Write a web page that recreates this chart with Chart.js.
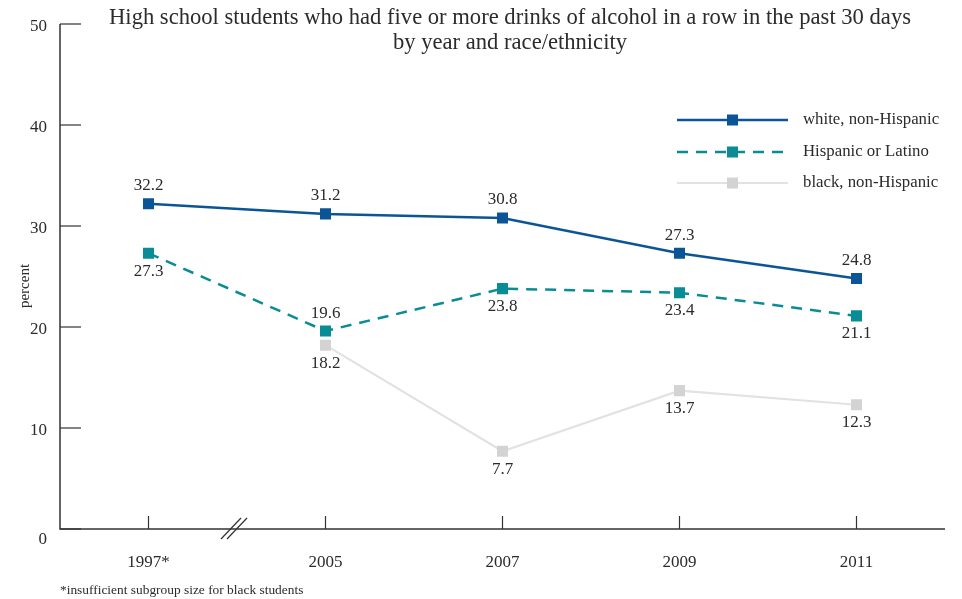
<!DOCTYPE html>
<html>
<head>
<meta charset="utf-8">
<script src="https://cdn.jsdelivr.net/npm/chart.js@4"></script>
<style>
  html, body { margin: 0; padding: 0; background: #fff; }
  #wrap { width: 962px; height: 599px; position: relative; }
</style>
</head>
<body>
<div id="wrap"><canvas id="myChart" width="962" height="599"></canvas></div>
<script>
var years = ["1997*", "2005", "2007", "2009", "2011"];
var whiteVals = [32.2, 31.2, 30.8, 27.3, 24.8];
var hispVals = [27.3, 19.6, 23.8, 23.4, 21.1];
var blackVals = [null, 18.2, 7.7, 13.7, 12.3];
var seriesNames = ["white, non-Hispanic", "Hispanic or Latino", "black, non-Hispanic"];
var yTicks = [0, 10, 20, 30, 40, 50];

// label above (-1) or below (1) the marker
var labelSide = [
  [-1, -1, -1, -1, -1],
  [1, -1, 1, 1, 1],
  [1, 1, 1, 1, 1]
];

var serif = "'Liberation Serif', 'DejaVu Serif', serif";
var ink = "#2b2b2b";

var extras = {
  id: "extras",
  afterDatasetsDraw: function(chart) {
    var ctx = chart.ctx;
    var xs = chart.scales.x;
    var ys = chart.scales.y;
    var area = chart.chartArea;
    ctx.save();

    // axes
    ctx.strokeStyle = "#333";
    ctx.lineWidth = 1.5;
    ctx.beginPath();
    ctx.moveTo(area.left, area.top);
    ctx.lineTo(area.left, area.bottom);
    ctx.lineTo(area.right, area.bottom);
    ctx.stroke();

    ctx.lineWidth = 1.2;
    yTicks.forEach(function(v) {
      var y = ys.getPixelForValue(v);
      ctx.beginPath();
      ctx.moveTo(area.left, y);
      ctx.lineTo(area.left + 21, y);
      ctx.stroke();
    });
    years.forEach(function(c, i) {
      var x = xs.getPixelForValue(i);
      ctx.beginPath();
      ctx.moveTo(x, area.bottom);
      ctx.lineTo(x, area.bottom - 13);
      ctx.stroke();
    });

    // zero label sits a little below the axis line
    ctx.fillStyle = ink;
    ctx.font = "17px " + serif;
    ctx.textAlign = "right";
    ctx.textBaseline = "middle";
    ctx.fillText("0", 47, ys.getPixelForValue(0) + 11);

    // axis break between first and second category
    var bx = (xs.getPixelForValue(0) + xs.getPixelForValue(1)) / 2 - 3;
    ctx.lineWidth = 1.2;
    [-3, 3].forEach(function(d) {
      ctx.beginPath();
      ctx.moveTo(bx + d - 10, area.bottom + 10);
      ctx.lineTo(bx + d + 10, area.bottom - 11);
      ctx.stroke();
    });

    // value labels
    ctx.font = "17px " + serif;
    ctx.textAlign = "center";
    chart.data.datasets.forEach(function(ds, di) {
      var meta = chart.getDatasetMeta(di);
      meta.data.forEach(function(pt, i) {
        var v = ds.data[i];
        if (v === null) return;
        ctx.fillText(v.toFixed(1), pt.x, pt.y + labelSide[di][i] * 18);
      });
    });

    // title
    ctx.font = "22.6px " + serif;
    ctx.fillText("High school students who had five or more drinks of alcohol in a row in the past 30 days", 510, 18);
    ctx.fillText("by year and race/ethnicity", 510, 43);

    // y axis title
    ctx.save();
    ctx.translate(25, 286);
    ctx.rotate(-Math.PI / 2);
    ctx.font = "15px " + serif;
    ctx.fillText("percent", 0, 0);
    ctx.restore();

    // legend
    var rowY = [120, 152, 183];
    chart.data.datasets.forEach(function(ds, di) {
      var y = rowY[di];
      ctx.strokeStyle = ds.borderColor;
      ctx.lineWidth = ds.borderWidth;
      ctx.setLineDash(ds.borderDash || []);
      ctx.beginPath();
      ctx.moveTo(677, y);
      ctx.lineTo(788, y);
      ctx.stroke();
      ctx.setLineDash([]);
      ctx.fillStyle = ds.pointBackgroundColor;
      ctx.fillRect(727, y - 5.5, 11, 11);
      ctx.fillStyle = ink;
      ctx.font = "16.8px " + serif;
      ctx.textAlign = "left";
      ctx.fillText(ds.label, 803, y);
    });

    // footnote
    ctx.font = "13.4px " + serif;
    ctx.textAlign = "left";
    ctx.fillStyle = ink;
    ctx.fillText("*insufficient subgroup size for black students", 60, 590);

    ctx.restore();
  }
};

Chart.register(extras);

var colors = ["#0b5596", "#0a8c96", "#d3d3d3"];
var ctx = document.getElementById("myChart").getContext("2d");
var myChart = new Chart(ctx, {
  type: "line",
  data: {
    labels: years,
    datasets: [
      {
        label: seriesNames[0], data: whiteVals, borderColor: colors[0], borderWidth: 2.5,
        pointStyle: "rect", pointRadius: 7.8, pointBackgroundColor: colors[0], pointBorderWidth: 0
      },
      {
        label: seriesNames[1], data: hispVals, borderColor: colors[1], borderWidth: 2.5, borderDash: [11, 8],
        pointStyle: "rect", pointRadius: 7.8, pointBackgroundColor: colors[1], pointBorderWidth: 0
      },
      {
        label: seriesNames[2], data: blackVals, borderColor: "#e2e2e2", borderWidth: 2.2,
        pointStyle: "rect", pointRadius: 7.8, pointBackgroundColor: colors[2], pointBorderWidth: 0
      }
    ]
  },
  options: {
    responsive: false,
    animation: false,
    layout: { padding: { left: 0, right: 17, top: 24, bottom: 0 } },
    plugins: { legend: { display: false }, tooltip: { enabled: false } },
    scales: {
      x: {
        offset: true,
        grid: { display: false, drawTicks: false },
        border: { display: false },
        ticks: { color: ink, font: { family: serif, size: 17 }, padding: 23 },
        afterFit: function(s) { s.height = 70; }
      },
      y: {
        min: 0, max: 50,
        grid: { display: false, drawTicks: false },
        border: { display: false },
        ticks: {
          stepSize: 10, color: ink, font: { family: serif, size: 17 }, padding: 13, labelOffset: 3,
          callback: function(v) { return v === 0 ? "" : v; }
        },
        afterFit: function(s) { s.width = 60; }
      }
    }
  }
});
</script>
</body>
</html>
